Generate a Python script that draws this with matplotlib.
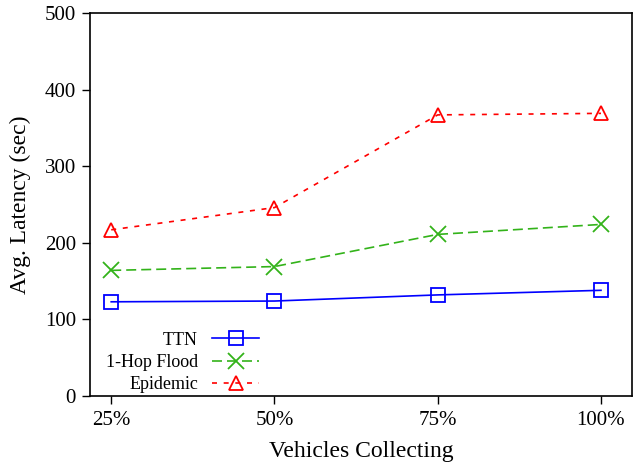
#!/usr/bin/env python3
"""Average latency vs. fraction of vehicles collecting."""
import matplotlib
matplotlib.use("Agg")
import matplotlib.pyplot as plt
import numpy as np

categories = ["25%", "50%", "75%", "100%"]
ttn = [123, 124, 132, 138]
flood = [164, 169, 211, 224]
epidemic = [217, 246, 367, 369]

plt.rcParams["font.family"] = ["Liberation Serif", "DejaVu Serif"]

fig = plt.figure(figsize=(6.4, 4.68), dpi=100)
ax = fig.add_axes([0.1406, 0.1538, 0.8469, 0.8184])

x = np.arange(len(categories))
ax.plot(x, ttn, color="#0000ff", lw=1.2, ls="-", marker="s", ms=10,
        mfc="none", mew=1.3, label="TTN")
ax.plot(x, flood, color="#33b31a", lw=1.2, ls=(0, (6, 3)), marker="x", ms=11,
        mew=1.3, label="1-Hop Flood")
ax.plot(x, epidemic, color="#ff0000", lw=1.2, ls=(0, (3, 4)), marker="^", ms=10,
        mfc="none", mew=1.3, label="Epidemic")

ax.set_xlim(-0.13, 3.19)
ax.set_ylim(0, 500)
ax.set_yticks([0, 100, 200, 300, 400, 500])
ax.set_xticks(x)
ax.set_xticklabels(categories)
ax.tick_params(direction="out", length=6, width=1, labelsize=15, colors="black")
ax.tick_params(axis="x", pad=5)
ax.tick_params(axis="y", pad=4)
for sp in ax.spines.values():
    sp.set_linewidth(1.2)

ax.set_xlabel("Vehicles Collecting", fontsize=17, labelpad=8)
ax.set_ylabel("Avg. Latency (sec)", fontsize=17, labelpad=10)

ax.legend(loc="lower left", bbox_to_anchor=(0.016, -0.012), frameon=False,
          markerfirst=False, fontsize=13, handlelength=2.6,
          labelspacing=0.3, borderaxespad=0.0, handletextpad=0.8)

fig.savefig("out.png", dpi=100)
